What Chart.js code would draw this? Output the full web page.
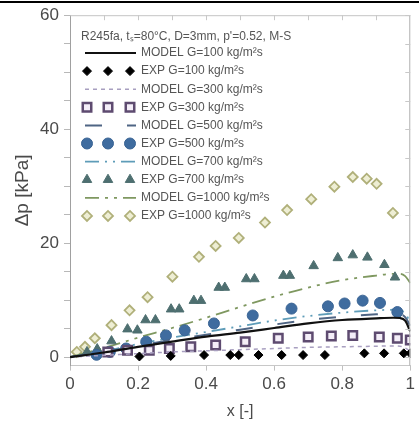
<!DOCTYPE html>
<html><head><meta charset="utf-8">
<script src="https://cdn.jsdelivr.net/npm/chart.js@4"></script>
<style>html,body{margin:0;padding:0;background:#fff;overflow:hidden}#wrap{position:relative;width:419px;height:421px}</style>
</head><body><div id="wrap"><canvas id="c"></canvas></div>
<script>
// ---- data ----
const legendTitle = "R245fa, tₛ=80°C, D=3mm, p'=0.52, M-S";
const seriesNames = ["MODEL G=100 kg/m²s","EXP G=100 kg/m²s","MODEL G=300 kg/m²s","EXP G=300 kg/m²s",
  "MODEL G=500 kg/m²s","EXP G=500 kg/m²s","MODEL G=700 kg/m²s","EXP G=700 kg/m²s",
  "MODEL G=1000 kg/m²s","EXP G=1000 kg/m²s"];

const xTicks = [0, 0.2, 0.4, 0.6, 0.8, 1];
const xTickLabels = ["0", "0.2", "0.4", "0.6", "0.8", "1"];
const xMinorTicks = [0.1, 0.2, 0.3, 0.4, 0.5, 0.6, 0.7, 0.8, 0.9];
const yTicks = [0, 5, 10, 15, 20, 25, 30, 35, 40, 45, 50, 55, 60];
const yTickLabels = {0: "0", 20: "20", 40: "40", 60: "60"};

const modelX = [0, 0.1, 0.2, 0.3, 0.4, 0.5, 0.6, 0.7, 0.8, 0.9, 0.95, 0.97, 0.985, 1.0];
const model100 = [0, 0.8, 1.8, 2.7, 3.6, 4.3, 5.1, 5.9, 6.5, 6.8, 6.9, 6.85, 6.4, 4.5];
const model300 = [0, 0.3, 0.6, 0.9, 1.1, 1.3, 1.5, 1.7, 1.8, 1.9, 1.95, 1.9, 1.6, 1.0];
const model500 = [0, 0.9, 2.0, 3.0, 3.9, 4.8, 5.7, 6.5, 7.1, 7.5, 7.6, 7.5, 7.0, 5.5];
const model700 = [0, 1.0, 2.3, 3.4, 4.4, 5.4, 6.4, 7.2, 7.8, 8.2, 8.3, 8.2, 7.7, 6.0];
const model1000 = [0, 1.6, 3.4, 5.1, 6.9, 8.8, 10.6, 12.2, 13.5, 14.3, 14.6, 14.6, 14.2, 13.0];

const exp100X = [0.204, 0.296, 0.394, 0.471, 0.496, 0.554, 0.622, 0.685, 0.749, 0.865, 0.923, 0.981, 1.0];
const exp100Y = [0.1, 0.2, 0.35, 0.35, 0.35, 0.35, 0.35, 0.35, 0.35, 0.65, 0.65, 0.65, 0.65];
const exp300X = [0.111, 0.169, 0.233, 0.292, 0.355, 0.428, 0.515, 0.612, 0.70, 0.768, 0.831, 0.909, 0.962, 1.0];
const exp300Y = [0.9, 1.2, 1.2, 1.5, 1.8, 2.1, 2.7, 3.3, 3.5, 3.7, 3.8, 3.5, 3.3, 3.0];
const exp500X = [0.078, 0.117, 0.165, 0.224, 0.282, 0.337, 0.423, 0.537, 0.651, 0.758, 0.807, 0.86, 0.911, 0.962];
const exp500Y = [0.4, 0.9, 1.5, 2.7, 3.8, 4.7, 5.9, 7.3, 8.5, 8.9, 9.4, 9.9, 9.5, 7.9];
const exp700X = [0.05, 0.08, 0.122, 0.169, 0.198, 0.222, 0.251, 0.297, 0.321, 0.364, 0.385, 0.437, 0.455, 0.518, 0.542, 0.627, 0.646, 0.716, 0.787, 0.831, 0.874, 0.924, 0.955];
const exp700Y = [0.9, 1.4, 2.8, 4.9, 4.7, 6.5, 6.5, 8.4, 8.4, 9.9, 9.9, 12.2, 12.2, 13.7, 13.7, 14.3, 14.3, 16.0, 17.4, 17.9, 17.5, 16.2, 14.0];
const exp1000X = [0.02, 0.044, 0.073, 0.122, 0.175, 0.228, 0.301, 0.379, 0.428, 0.496, 0.573, 0.638, 0.709, 0.777, 0.831, 0.872, 0.901, 0.949];
const exp1000Y = [0.9, 1.8, 3.3, 5.6, 8.2, 10.5, 14.1, 17.6, 19.5, 20.9, 23.6, 25.8, 27.7, 29.9, 31.6, 31.3, 30.4, 25.3];

// ---- helpers ----
const pts = (xs, ys) => xs.map((x, i) => ({x: x, y: ys[i]}));
const FONT = "'Liberation Sans', Arial, sans-serif";
const TXT = '#4a4a4a';

function modelDs(label, ys, color, width, dash) {
  return {type: 'line', label, data: pts(modelX, ys), borderColor: color, backgroundColor: color,
    borderWidth: width, borderDash: dash, pointRadius: 0, fill: false, cubicInterpolationMode: 'monotone', showLine: true};
}
function expDs(label, xs, ys, style, radius, bg, border, bw) {
  return {type: 'scatter', label, data: pts(xs, ys), pointStyle: style, pointRadius: radius,
    backgroundColor: bg, borderColor: border, borderWidth: bw, showLine: false};
}

const datasets = [
  modelDs(seriesNames[0], model100, '#111111', 2.2, []),
  expDs(seriesNames[1], exp100X, exp100Y, 'rectRot', 4.5, '#000000', '#000000', 1),
  modelDs(seriesNames[2], model300, '#a89fc0', 1.5, [4, 4]),
  expDs(seriesNames[3], exp300X, exp300Y, 'rect', 6, '#f4eef8', '#5e4b70', 2.5),
  modelDs(seriesNames[4], model500, '#4f6584', 2, [17, 25]),
  expDs(seriesNames[5], exp500X, exp500Y, 'circle', 5.5, '#3f6c9f', '#3a6494', 1),
  modelDs(seriesNames[6], model700, '#5e9cb8', 1.8, [14, 6, 2, 6, 2, 6]),
  expDs(seriesNames[7], exp700X, exp700Y, 'triangle', 5.5, '#4e6f70', '#4e6f70', 1),
  modelDs(seriesNames[8], model1000, '#7f9860', 1.8, [14, 6, 3, 6, 3, 6]),
  expDs(seriesNames[9], exp1000X, exp1000Y, 'rectRot', 5, '#eeeed4', '#b0b07a', 1.8)
];

const framePlugin = {
  id: 'frame',
  afterDraw(chart) {
    const ctx = chart.ctx, a = chart.chartArea, xs = chart.scales.x, ys = chart.scales.y;
    ctx.save();
    // top decorative rule
    ctx.fillStyle = '#000';
    ctx.fillRect(0, 1, chart.width, 2);
    // top & right frame
    ctx.strokeStyle = '#c4c4c4'; ctx.lineWidth = 1;
    ctx.beginPath(); ctx.moveTo(a.left, a.top + 0.5); ctx.lineTo(a.right, a.top + 0.5); ctx.stroke();
    ctx.strokeStyle = '#b0b0b0';
    ctx.beginPath(); ctx.moveTo(a.right - 0.5, a.top); ctx.lineTo(a.right - 0.5, a.bottom); ctx.stroke();
    // inner ticks
    ctx.strokeStyle = '#c8c8c8';
    xMinorTicks.forEach(v => {
      const px = Math.round(xs.getPixelForValue(v)) + 0.5;
      ctx.beginPath(); ctx.moveTo(px, a.top); ctx.lineTo(px, a.top + 5); ctx.stroke();
    });
    yTicks.forEach(v => {
      const py = Math.round(ys.getPixelForValue(v)) + 0.5;
      ctx.beginPath(); ctx.moveTo(a.right, py); ctx.lineTo(a.right - 5, py); ctx.stroke();
    });
    // legend
    const lx0 = 85, lx1 = 136, tx = 141, y0 = 53, dy = 18.1;
    ctx.font = '12px ' + FONT;
    ctx.fillStyle = '#555';
    ctx.textBaseline = 'middle';
    ctx.textAlign = 'left';
    ctx.fillText(legendTitle, 81, 37);
    chart.data.datasets.forEach((ds, i) => {
      const y = y0 + i * dy;
      if (ds.type === 'line') {
        ctx.save();
        ctx.strokeStyle = ds.borderColor; ctx.lineWidth = ds.borderWidth;
        ctx.setLineDash(ds.borderDash || []);
        ctx.beginPath(); ctx.moveTo(lx0, y); ctx.lineTo(lx1, y); ctx.stroke();
        ctx.restore();
      } else {
        [lx0 + 2, 108, 130].forEach(px => {
          ctx.save();
          ctx.fillStyle = ds.backgroundColor; ctx.strokeStyle = ds.borderColor; ctx.lineWidth = ds.borderWidth;
          Chart.helpers.drawPoint(ctx, {pointStyle: ds.pointStyle, radius: ds.pointRadius, rotation: 0, borderWidth: ds.borderWidth}, px, y);
          ctx.restore();
        });
      }
      ctx.fillStyle = '#555';
      ctx.fillText(ds.label, tx, y);
    });
    ctx.restore();
  }
};

new Chart(document.getElementById('c'), {
  type: 'scatter',
  data: {datasets},
  options: {
    responsive: true, maintainAspectRatio: false, animation: false, devicePixelRatio: 1,
    layout: {padding: {top: 13, right: 5, left: 0, bottom: 0}},
    plugins: {legend: {display: false}, tooltip: {enabled: false}},
    scales: {
      x: {
        type: 'linear', position: 'bottom', min: 0, max: 1,
        afterBuildTicks: s => { s.ticks = xTicks.map(v => ({value: v})); },
        afterFit: s => { s.height = 55.4; },
        ticks: {callback: (v) => xTickLabels[xTicks.indexOf(v)] ?? '', color: TXT, font: {family: FONT, size: 17}, padding: 4, maxRotation: 0, autoSkip: false},
        grid: {drawOnChartArea: false, tickLength: 5, color: '#c0c0c0'},
        border: {color: '#c8c8c8'},
        title: {display: true, text: 'x [-]', color: TXT, font: {family: FONT, size: 16}, padding: {top: 0, bottom: 0}}
      },
      y: {
        type: 'linear', position: 'left', min: -1.5, max: 60,
        afterBuildTicks: s => { s.ticks = yTicks.map(v => ({value: v})); },
        afterFit: s => { s.width = 70; },
        ticks: {callback: (v) => yTickLabels[v] ?? '', color: TXT, font: {family: FONT, size: 17}, padding: 5, autoSkip: false},
        grid: {drawOnChartArea: false, tickLength: 6, color: '#b8b8b8'},
        border: {color: '#a0a0a0'},
        title: {display: true, text: 'Δp [kPa]', color: TXT, font: {family: FONT, size: 19}, padding: {top: 11, bottom: 0}}
      }
    }
  },
  plugins: [framePlugin]
});
</script></body></html>
